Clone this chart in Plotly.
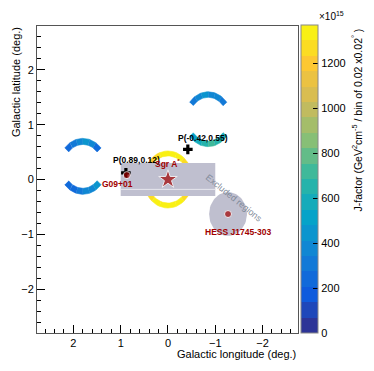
import numpy as np
import plotly.graph_objects as go
from plotly.colors import sample_colorscale

# ROOT kBird palette, discretised into 20 contour levels
bird_pos = [0.0, 0.125, 0.25, 0.375, 0.5, 0.625, 0.75, 0.875, 1.0]
bird_r = [0.2082, 0.0592, 0.0780, 0.0232, 0.1802, 0.5301, 0.8186, 0.9956, 0.9764]
bird_g = [0.1664, 0.3599, 0.5041, 0.6419, 0.7178, 0.7492, 0.7328, 0.7862, 0.9832]
bird_b = [0.5293, 0.8684, 0.8385, 0.7914, 0.6425, 0.4662, 0.3499, 0.1968, 0.0539]
bird = [[p, "rgb(%d,%d,%d)" % (r * 255, g * 255, b * 255)]
        for p, r, g, b in zip(bird_pos, bird_r, bird_g, bird_b)]

n_levels = 20
j_min, j_max = 0, 1370
band_cols = sample_colorscale(bird, [(i + 0.5) / n_levels for i in range(n_levels)])
jscale = []
for i, c in enumerate(band_cols):
    jscale += [[i / n_levels, c], [(i + 1) / n_levels, c]]


def j_colour(v):
    k = int((v - j_min) / (j_max - j_min) * n_levels)
    return band_cols[min(max(k, 0), n_levels - 1)]


# ring segments (J-factor, units of 1e15), values read left -> right
arc_l0 = [1.8, 1.8, -0.85, -0.85, 0.0, 0.0]
arc_b0 = [0.24, 0.24, 1.1, 1.1, 0.0, 0.0]
arc_rin = [0.40, 0.40, 0.40, 0.40, 0.43, 0.43]
arc_rout = [0.51, 0.51, 0.50, 0.50, 0.52, 0.52]
arc_th0 = [139, 221, 142, 218, 151, 209]
arc_th1 = [41, 319, 38, 322, 29, 331]
arc_j = [
    [260, 330, 400, 420, 350, 270],
    [230, 260, 300, 350, 400, 430],
    [330, 380, 420, 410, 380, 330],
    [530, 570, 640, 700, 680, 600],
    [1230, 1280, 1330, 1360, 1330, 1300],
    [1290, 1340, 1380, 1370, 1340, 1300],
]

# exclusion regions
excl_box_l = [1.0, -1.0]
excl_box_b = [-0.3, 0.3]
excl_seam_b = -0.18
excl_disk_l, excl_disk_b, excl_disk_r = -1.27, -0.63, 0.40

# sources and test positions
src_l = [0.0, 0.87, -1.27]
src_b = [0.0, 0.08, -0.63]
src_sym = ["star", "circle", "circle"]
pt_l = [0.89, -0.42]
pt_b = [0.12, 0.55]

dark_red = "#a00000"
fig = go.Figure()

for l0, b0, rin, rout, t0, t1, vals in zip(arc_l0, arc_b0, arc_rin, arc_rout,
                                           arc_th0, arc_th1, arc_j):
    edges = np.linspace(t0, t1, len(vals) + 1)
    for k, v in enumerate(vals):
        th = np.radians(np.linspace(edges[k], edges[k + 1], 12))
        xs = np.concatenate([l0 - rout * np.cos(th), (l0 - rin * np.cos(th))[::-1]])
        ys = np.concatenate([b0 + rout * np.sin(th), (b0 + rin * np.sin(th))[::-1]])
        col = j_colour(v)
        fig.add_trace(go.Scatter(x=xs, y=ys, mode="lines", fill="toself", fillcolor=col,
                                 line=dict(color=col, width=0.6), hoverinfo="skip",
                                 showlegend=False))

grey = "#bfbfcf"
fig.add_trace(go.Scatter(
    x=[excl_box_l[0], excl_box_l[1], excl_box_l[1], excl_box_l[0], excl_box_l[0]],
    y=[excl_box_b[0], excl_box_b[0], excl_box_b[1], excl_box_b[1], excl_box_b[0]],
    mode="lines", fill="toself", fillcolor=grey, line=dict(width=0),
    hoverinfo="skip", showlegend=False))
fig.add_trace(go.Scatter(x=excl_box_l, y=[excl_seam_b, excl_seam_b], mode="lines",
                         line=dict(color="#e8e8ee", width=1), hoverinfo="skip",
                         showlegend=False))
phi = np.linspace(0, 2 * np.pi, 80)
fig.add_trace(go.Scatter(x=excl_disk_l + excl_disk_r * np.cos(phi),
                         y=excl_disk_b + excl_disk_r * np.sin(phi),
                         mode="lines", fill="toself", fillcolor=grey, line=dict(width=0),
                         hoverinfo="skip", showlegend=False))

fig.add_trace(go.Scatter(x=pt_l, y=pt_b, mode="markers",
                         marker=dict(symbol="cross", size=8, color="black"),
                         showlegend=False))
fig.add_trace(go.Scatter(x=src_l, y=src_b, mode="markers",
                         marker=dict(symbol=src_sym, size=[14, 7, 7], color=dark_red),
                         showlegend=False))

# dummy trace carrying the colour axis
fig.add_trace(go.Scatter(x=[None], y=[None], mode="markers",
                         marker=dict(color=[0], coloraxis="coloraxis"), showlegend=False))

lab = dict(family="Liberation Sans, Arial", size=8.5)
notes = [
    ("<b>P(0.89,0.12)</b>", 0.67, 0.35, "black"),
    ("<b>P(-0.42,0.55)</b>", -0.74, 0.76, "black"),
    ("<b>G09+01</b>", 1.06, -0.08, dark_red),
    ("<b>Sgr A<sup>*</sup></b>", 0.0, 0.29, dark_red),
    ("<b>HESS J1745-303</b>", -1.48, -0.95, dark_red),
]
for txt, x, y, c in notes:
    fig.add_annotation(x=x, y=y, text=txt, showarrow=False, font=dict(lab, color=c))
fig.add_annotation(x=-1.39, y=-0.345, text="Excluded regions", textangle=39,
                   showarrow=False, font=dict(family="Liberation Sans, Arial", size=9,
                                              color="#7f8a99"))

fig.add_annotation(xref="paper", yref="paper", x=1.0, y=-0.068, xanchor="right",
                   yanchor="middle", text="Galactic longitude (deg.)", showarrow=False,
                   font=dict(size=11))
fig.add_annotation(xref="paper", yref="paper", x=-0.0805, y=1.003, xanchor="center",
                   yanchor="top", textangle=-90, text="Galactic latitude (deg.)",
                   showarrow=False, font=dict(size=11))
fig.add_annotation(xref="paper", yref="paper", x=1.226, y=1.0, xanchor="center",
                   yanchor="top", textangle=-90, showarrow=False, font=dict(size=10.5),
                   text="J-factor (GeV<sup>2</sup>cm<sup>-5</sup> / bin of 0.02 x0.02<sup>°</sup> )")
fig.add_annotation(xref="paper", yref="paper", x=1.073, y=1.0065, xanchor="left",
                   yanchor="bottom", text="×10<sup>15</sup>", showarrow=False,
                   font=dict(size=10))

axis_style = dict(ticks="inside", ticklen=8, tickcolor="black", showgrid=False,
                  zeroline=False, showline=True, mirror=True, linecolor="#555",
                  linewidth=1, tickmode="linear", tick0=0, dtick=1,
                  minor=dict(ticks="inside", ticklen=4, tickcolor="black",
                             tickmode="linear", tick0=0, dtick=0.2))
fig.update_xaxes(range=[2.77, -2.75], **axis_style)
fig.update_yaxes(range=[-2.8, 2.8], **axis_style)

# the page body adds an 8px margin, so the figure is 8px smaller on each side
fig.update_layout(
    width=366, height=363,
    margin=dict(l=29, r=76, t=18, b=38, autoexpand=False),
    plot_bgcolor="white", paper_bgcolor="white",
    font=dict(family="Liberation Sans, Arial", size=11, color="black"),
    coloraxis=dict(colorscale=jscale, cmin=j_min, cmax=j_max,
                   colorbar=dict(x=1.0115, xanchor="left", xpad=0, y=1.0033,
                                 yanchor="top", ypad=0, lenmode="pixels", len=308,
                                 thickness=17, ticks="inside", ticklen=5,
                                 tickcolor="black", tickvals=[0, 200, 400, 600, 800, 1000, 1200],
                                 outlinewidth=1, outlinecolor="#888",
                                 tickfont=dict(size=11))),
)

fig.write_html("out.html")
